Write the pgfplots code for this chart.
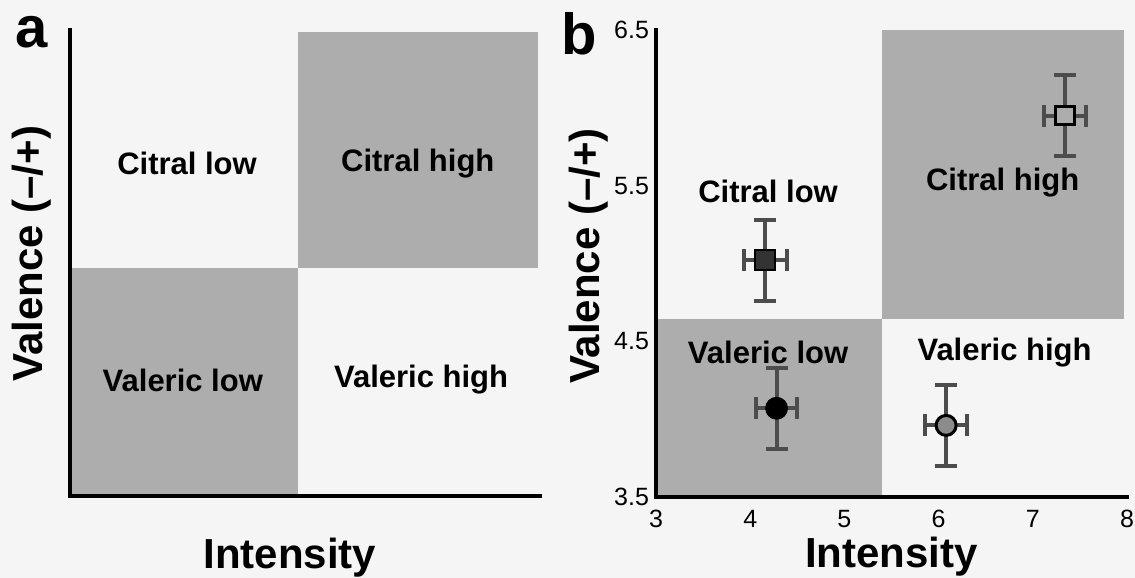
\documentclass[border=0pt]{standalone}
\usepackage{pgfplots}
\pgfplotsset{compat=1.18}
\usepackage{fontspec}
\setmainfont{Liberation Sans}
\definecolor{sq}{gray}{0.68}
\definecolor{bg}{gray}{0.96}
\definecolor{eb}{gray}{0.3}
\pgfplotstableread{
x y ex ey
4.16 5.02 0.23 0.26
7.34 5.95 0.22 0.26
4.28 4.07 0.22 0.26
6.08 3.96 0.22 0.26
}\errtab
\tikzset{qlab/.style={font=\fontsize{15.5}{18}\selectfont\bfseries}}
\begin{document}
\begin{tikzpicture}
\useasboundingbox (0,0) rectangle (567.5pt,289pt);
\fill[bg] (0,0) rectangle (567.5pt,289pt);
\pgfplotsset{
  panel/.style={
    scale only axis, clip=false, axis on top,
    axis x line*=bottom, axis y line*=left,
    axis line style={-, line width=2pt, line cap=rect},
    every outer x axis line/.append style={-},
    every outer y axis line/.append style={-},
    major tick length=0pt,
    xlabel style={font=\fontsize{21}{24}\selectfont\bfseries, anchor=base},
    ylabel style={font=\fontsize{21}{24}\selectfont\bfseries, anchor=center, rotate=0},
    xlabel={Intensity}, ylabel={Valence (–/+)},
  },
}
% ---------- panel a ----------
\begin{axis}[panel, at={(35pt,41pt)}, anchor=south west, width=235pt, height=233pt,
  xmin=0, xmax=1, ymin=0, ymax=1, xtick=\empty, ytick=\empty,
  xlabel style={at={(axis description cs:0.468,-0.155)}},
  ylabel style={at={(axis description cs:-0.081,0.52)}}]
\addplot[fill=sq, draw=none] coordinates {(0,0) (0.485,0) (0.485,0.489) (0,0.489)} -- cycle;
\addplot[fill=sq, draw=none] coordinates {(0.485,0.489) (0.996,0.489) (0.996,0.996) (0.485,0.996)} -- cycle;
\node[qlab] at (axis cs:0.249,0.714) {Citral low};
\node[qlab] at (axis cs:0.740,0.714) {Citral high};
\node[qlab] at (axis cs:0.240,0.249) {Valeric low};
\node[qlab] at (axis cs:0.747,0.249) {Valeric high};
\end{axis}
\node[font=\fontsize{29}{30}\selectfont\bfseries, anchor=base] at (16pt,265pt) {a};
% ---------- panel b ----------
\begin{axis}[panel, at={(328pt,40.5pt)}, anchor=south west, width=235.5pt, height=233.5pt,
  xmin=3, xmax=8, ymin=3.5, ymax=6.5,
  xtick={3,4,5,6,7,8}, ytick={3.5,4.5,5.5,6.5},
  yticklabel style={/pgf/number format/fixed, /pgf/number format/fixed zerofill, /pgf/number format/precision=1},
  /pgf/number format/assume math mode=true,
  ticklabel style={font=\fontsize{12.5}{14}\selectfont},
  xticklabel style={yshift=-3pt},
  xlabel style={at={(axis description cs:0.5,-0.152)}},
  ylabel style={at={(axis description cs:-0.144,0.516)}}]
\addplot[fill=sq, draw=none] coordinates {(3,3.5) (5.40,3.5) (5.40,4.644) (3,4.644)} -- cycle;
\addplot[fill=sq, draw=none] coordinates {(5.40,4.644) (7.97,4.644) (7.97,6.5) (5.40,6.5)} -- cycle;
\node[qlab] at (axis cs:4.19,5.46) {Citral low};
\node[qlab] at (axis cs:6.68,5.52) {Citral high};
\node[qlab] at (axis cs:4.19,4.43) {Valeric low};
\node[qlab] at (axis cs:6.70,4.43) {Valeric high};
\addplot[draw=none, mark=none, forget plot,
  error bars/.cd, x dir=both, x explicit, y dir=both, y explicit,
  error bar style={draw=eb, line width=2pt},
  error mark options={rotate=90, draw=eb, line width=2pt, mark size=5.5pt}]
  table[x=x, y=y, x error=ex, y error=ey] {\errtab};
\addplot[only marks, mark=square*, mark size=5pt, mark options={fill=black!80, draw=black, line width=1pt}] coordinates {(4.16,5.02)};
\addplot[only marks, mark=square*, mark size=4.6pt, mark options={fill=sq, draw=black, line width=1.5pt}] coordinates {(7.34,5.95)};
\addplot[only marks, mark=*, mark size=5.5pt, mark options={fill=black, draw=black}] coordinates {(4.28,4.07)};
\addplot[only marks, mark=*, mark size=5pt, mark options={fill=black!45, draw=black, line width=1.5pt}] coordinates {(6.08,3.96)};
\end{axis}
\node[font=\fontsize{29}{30}\selectfont\bfseries, anchor=base] at (289.5pt,261.5pt) {b};
\end{tikzpicture}
\end{document}
